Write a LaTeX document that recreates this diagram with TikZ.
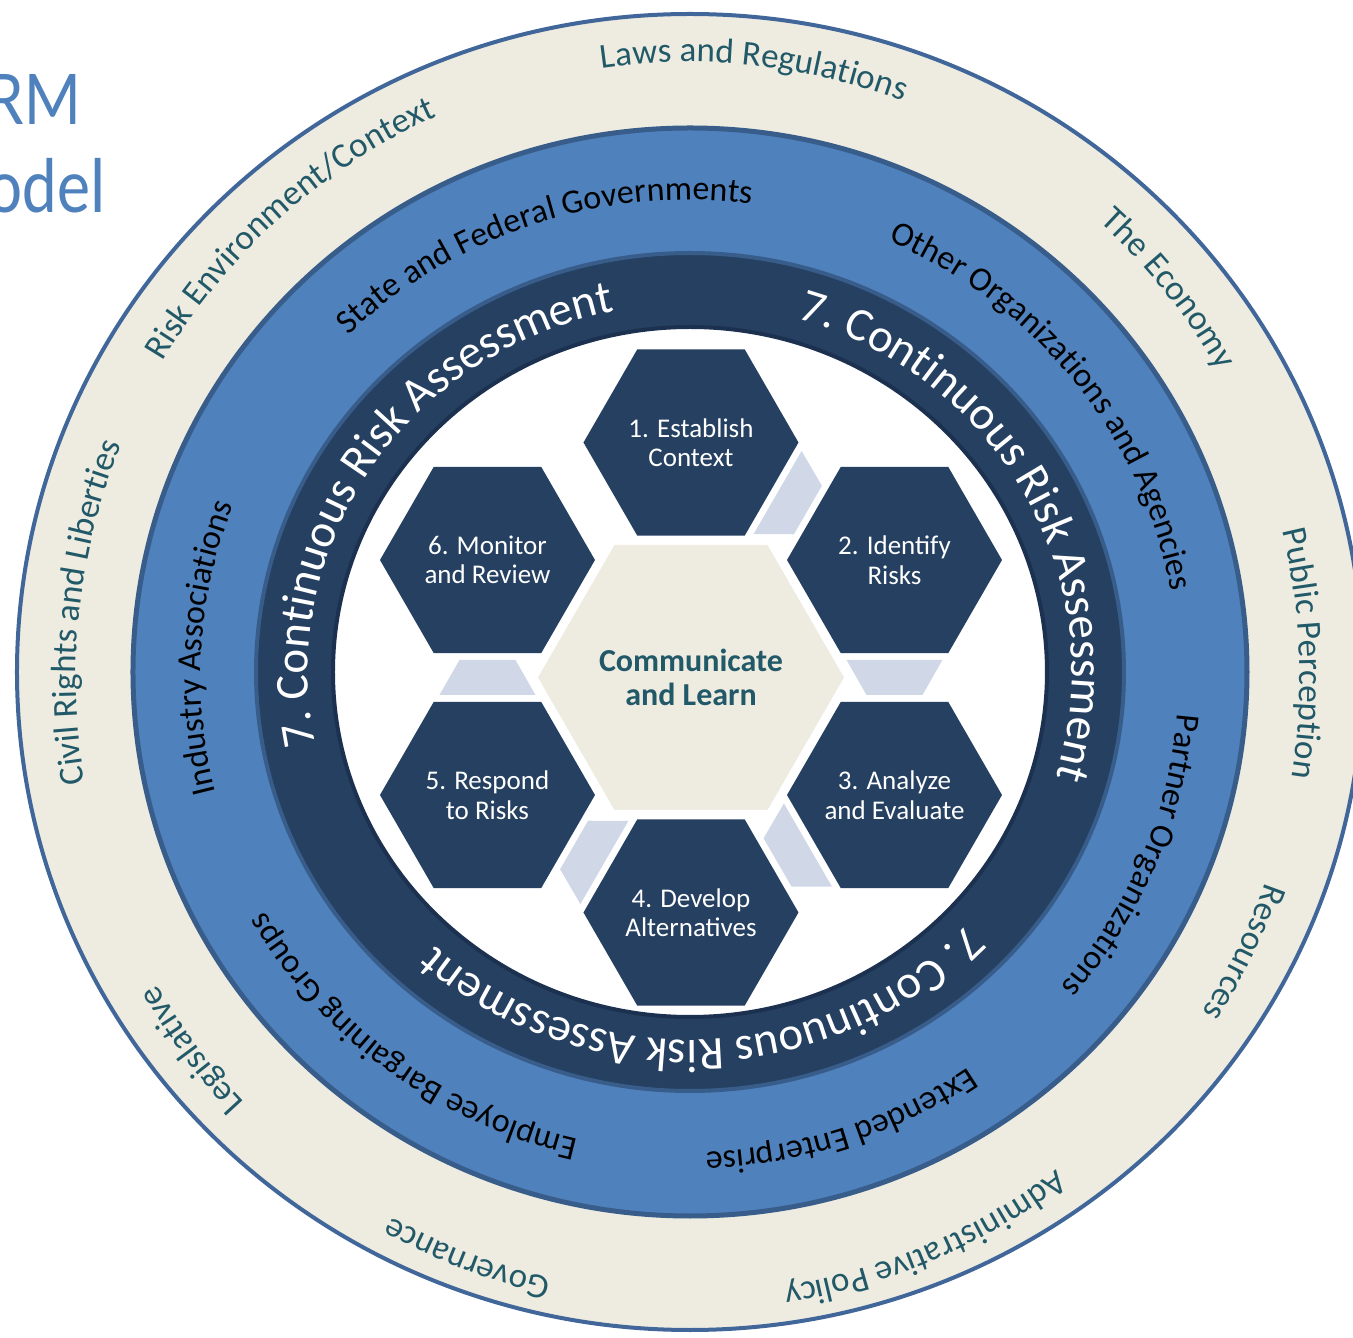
\documentclass[tikz,border=0pt]{standalone}
\usepackage{fontspec}
\setmainfont{Carlito}
\usetikzlibrary{decorations.text,calc}
\definecolor{beigec}{HTML}{EEECE1}
\definecolor{outerline}{HTML}{41679A}
\definecolor{bluec}{HTML}{4F81BD}
\definecolor{blueline}{HTML}{385D8A}
\definecolor{navyc}{HTML}{254061}
\definecolor{innerline}{HTML}{1C3150}
\definecolor{connc}{HTML}{D0D8E8}
\definecolor{tealc}{HTML}{215968}
\definecolor{titlec}{HTML}{4F81BD}
\newcommand{\ringlabel}[6]{%
  \pgfmathsetmacro{\angA}{#3+#4}%
  \pgfmathsetmacro{\angB}{#3-#4}%
  \path[decorate, decoration={text along path, text align=center, text={|#5|#6}}]
    (\angA:#1 and #2) arc[start angle=\angA, end angle=\angB, x radius=#1, y radius=#2];
}
\newcommand{\hexfill}[3]{%
  \path[#3, shift={(#1)}] (0:#2) -- (60:#2) -- (120:#2) -- (180:#2) -- (240:#2) -- (300:#2) -- cycle;
}
\newcommand{\connshape}[1]{%
  \fill[connc, shift={($(K)+(#1:203.5)$)}, rotate=#1-180]
    (-48,-17.5) -- (48,-17.5) -- (28,17.5) -- (-28,17.5) -- cycle;
}
\begin{document}
\begin{tikzpicture}[x=1pt,y=1pt,
  hextext/.style={text=white, align=center, font=\fontsize{27}{29.5}\selectfont, inner sep=0pt},
  centertext/.style={text=tealc, align=center, font=\bfseries\fontsize{32}{34.5}\selectfont, inner sep=0pt},
  titletext/.style={text=titlec, font=\fontsize{78}{87}\selectfont, inner sep=0pt}]
\useasboundingbox (-690,-666) rectangle (663,672);
\fill[white] (-690,-666) rectangle (663,672);

% title fragments
\node[titletext, anchor=base east] (tRM) at (-609,547) {\scalebox{0.85}[1]{RM}};
\node[titletext, anchor=base east] (tModel) at (-584,459) {\scalebox{0.85}[1]{odel}};

% rings
\filldraw[fill=beigec, draw=outerline, line width=4] (0,0) ellipse [x radius=673, y radius=658];
\filldraw[fill=bluec, draw=blueline, line width=5] (0,0) ellipse [x radius=557, y radius=544];
\filldraw[fill=navyc, draw=blueline, line width=4] (0,0) ellipse [x radius=434, y radius=419];
\filldraw[fill=white, draw=innerline, line width=4] (0,0) ellipse [x radius=357, y radius=345];

% hexagon cluster
\coordinate (K) at (1,-5.5);
\coordinate (h1) at ($(K)+(90:235)$);
\coordinate (h2) at ($(K)+(30:235)$);
\coordinate (h3) at ($(K)+(-30:235)$);
\coordinate (h4) at ($(K)+(-90:235)$);
\coordinate (h5) at ($(K)+(-150:235)$);
\coordinate (h6) at ($(K)+(150:235)$);

\connshape{60}
\connshape{0}
\connshape{-60}
\connshape{-120}
\connshape{180}

\hexfill{K}{153}{fill=beigec}
\hexfill{h1}{107.5}{fill=navyc}
\hexfill{h2}{107.5}{fill=navyc}
\hexfill{h3}{107.5}{fill=navyc}
\hexfill{h4}{107.5}{fill=navyc}
\hexfill{h5}{107.5}{fill=navyc}
\hexfill{h6}{107.5}{fill=navyc}

\node[centertext] (tc) at (K) {Communicate\\and Learn};
\node[hextext] (t1) at (h1) {1. Establish\\Context};
\node[hextext] (t2) at (h2) {2. Identify\\Risks};
\node[hextext] (t3) at (h3) {3. Analyze\\and Evaluate};
\node[hextext] (t4) at (h4) {4. Develop\\Alternatives};
\node[hextext] (t5) at (h5) {5. Respond\\to Risks};
\node[hextext] (t6) at (h6) {6. Monitor\\and Review};

% outer ring labels
\def\fa{\fontsize{35}{42}\selectfont\color{tealc}}
\begin{scope}[shift={(-2,-6)}]
\ringlabel{612}{616}{83.8}{45}{\fa}{Laws and Regulations}
\ringlabel{612}{616}{38.9}{45}{\fa}{The Economy}
\ringlabel{612}{616}{2.3}{45}{\fa}{Public Perception}
\ringlabel{612}{616}{-26.2}{45}{\fa}{Resources}
\ringlabel{612}{616}{-67}{45}{\fa}{Administrative Policy}
\ringlabel{612}{616}{-110.9}{45}{\fa}{Governance}
\ringlabel{612}{616}{-143.2}{45}{\fa}{Legislative}
\ringlabel{612}{616}{173.8}{45}{\fa}{Civil Rights and Liberties}
\ringlabel{612}{616}{131.6}{45}{\fa}{Risk Environment/Context}
\end{scope}

% blue ring labels
\def\fb{\fontsize{34}{41}\selectfont\color{black}}
\begin{scope}[shift={(0,-4)}]
\ringlabel{489}{476}{108.7}{45}{\fb}{State and Federal Governments}
\ringlabel{489}{476}{38}{45}{\fb}{Other Organizations and Agencies}
\ringlabel{489}{476}{-22.4}{45}{\fb}{Partner Organizations}
\ringlabel{489}{476}{-71.5}{45}{\fb}{Extended Enterprise}
\ringlabel{489}{476}{-127}{45}{\fb}{Employee Bargaining Groups}
\ringlabel{489}{476}{176.6}{45}{\fb}{Industry Associations}
\end{scope}

% dark ring labels
\def\fc{\fontsize{47}{56}\selectfont\color{white}}
\ringlabel{382}{368}{146.6}{60}{\fc}{7. Continuous Risk Assessment}
\ringlabel{382}{368}{28.3}{60}{\fc}{7. Continuous Risk Assessment}
\ringlabel{382}{368}{-87.7}{60}{\fc}{7. Continuous Risk Assessment}
\end{tikzpicture}
\end{document}
